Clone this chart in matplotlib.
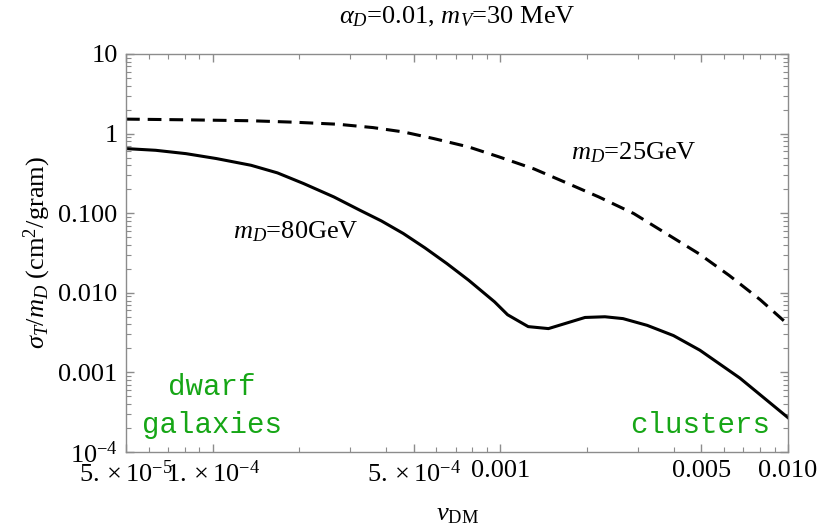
import matplotlib
matplotlib.use("Agg")
import matplotlib.pyplot as plt
from matplotlib.ticker import FixedLocator, NullFormatter, LogLocator

plt.rcParams['font.family'] = ['Liberation Serif', 'DejaVu Serif']
plt.rcParams['mathtext.fontset'] = 'custom'
plt.rcParams['mathtext.rm'] = 'Liberation Serif'
plt.rcParams['mathtext.it'] = 'Liberation Serif:italic'
plt.rcParams['mathtext.bf'] = 'Liberation Serif:bold'

# m_D = 25 GeV (dashed)
v_25 = [5e-5, 8.08e-5, 1.36e-4, 1.93e-4, 2.73e-4, 3.61e-4, 4.6e-4, 5.87e-4,
        7.76e-4, 9.9e-4, 1.31e-3, 1.67e-3, 2.2e-3, 2.91e-3, 3.7e-3, 4.9e-3,
        6.25e-3, 8e-3, 1e-2]
s_25 = [1.52, 1.49, 1.45, 1.39, 1.31, 1.19, 1.05, 0.866,
        0.68, 0.51, 0.36, 0.247, 0.16, 0.099, 0.058, 0.031,
        0.0165, 0.0082, 0.0040]

# m_D = 80 GeV (solid)
v_80 = [5e-5, 6.34e-5, 8.08e-5, 1.03e-4, 1.36e-4, 1.68e-4, 2.07e-4, 2.64e-4,
        3.25e-4, 3.86e-4, 4.6e-4, 5.47e-4, 6.52e-4, 7.76e-4, 9.55e-4,
        1.06e-3, 1.25e-3, 1.47e-3, 1.97e-3, 2.31e-3, 2.67e-3, 3.24e-3,
        4.0e-3, 4.94e-3, 6.8e-3, 1e-2]
s_80 = [0.648, 0.617, 0.56, 0.486, 0.40, 0.321, 0.236, 0.160,
        0.109, 0.080, 0.0556, 0.0367, 0.0233, 0.0144, 0.0077,
        0.0053, 0.00376, 0.00355, 0.0049, 0.0050, 0.00474, 0.0039,
        0.0029, 0.0019, 0.00085, 0.00027]

x_ticks = [5e-5, 1e-4, 5e-4, 1e-3, 5e-3, 1e-2]
x_labels = [r"$5.\times10^{-5}$", r"$1.\times10^{-4}$", r"$5.\times10^{-4}$",
            "0.001", "0.005", "0.010"]
y_ticks = [1e-4, 1e-3, 1e-2, 1e-1, 1, 10]
y_labels = [r"$10^{-4}$", "0.001", "0.010", "0.100", "1", "10"]

W, H = 823, 531
fig = plt.figure(figsize=(W / 100, H / 100), dpi=100)
ax = fig.add_axes([126 / W, 1 - 452 / H, (788 - 126) / W, (452 - 54) / H])

ax.plot(v_25, s_25, color='black', lw=2.2, ls=(0, (4.5, 2.6)))
ax.plot(v_80, s_80, color='black', lw=2.2)

ax.set_xscale('log')
ax.set_yscale('log')
ax.set_xlim(5e-5, 1e-2)
ax.set_ylim(1e-4, 10)

ax.xaxis.set_major_locator(FixedLocator(x_ticks))
ax.set_xticklabels(x_labels)
ax.xaxis.set_minor_locator(LogLocator(base=10, subs=[1, 2, 3, 4, 5, 6, 7, 8, 9], numticks=50))
ax.xaxis.set_minor_formatter(NullFormatter())
ax.yaxis.set_major_locator(FixedLocator(y_ticks))
ax.set_yticklabels(y_labels)
ax.yaxis.set_minor_locator(LogLocator(base=10, subs=[2, 3, 4, 5, 6, 7, 8, 9], numticks=50))
ax.yaxis.set_minor_formatter(NullFormatter())

frame_col = '#8c8c8c'
for s in ax.spines.values():
    s.set_color(frame_col)
    s.set_linewidth(1.0)
ax.tick_params(which='both', direction='in', top=True, right=True, color=frame_col,
               labelsize=19, labelcolor='black')
ax.tick_params(which='major', length=6, width=1.0, pad=6)
ax.tick_params(which='minor', length=3.5, width=0.8)

fig.text(457 / W, 1 - 17 / H, r"$\alpha_D$=0.01, $m_V$=30 MeV", ha='center',
         va='center', fontsize=19)
ax.set_xlabel(r"$v_{\rm DM}$", fontsize=19, labelpad=12)
ax.set_ylabel(r"$\sigma_T/m_D$ (cm$^2$/gram)", fontsize=19, labelpad=4)

ax.text(296 / W, 1 - 232 / H, r"$m_D$=80GeV", transform=fig.transFigure,
        ha='center', va='center', fontsize=19)
ax.text(634 / W, 1 - 153 / H, r"$m_D$=25GeV", transform=fig.transFigure,
        ha='center', va='center', fontsize=19)

green = '#16a616'
ax.text(212 / W, 1 - 387 / H, "dwarf", transform=fig.transFigure, ha='center',
        va='center', fontsize=21, family='Liberation Mono', color=green)
ax.text(212 / W, 1 - 425 / H, "galaxies", transform=fig.transFigure, ha='center',
        va='center', fontsize=21, family='Liberation Mono', color=green)
ax.text(700 / W, 1 - 425 / H, "clusters", transform=fig.transFigure, ha='center',
        va='center', fontsize=21, family='Liberation Mono', color=green)

fig.savefig("out.png", dpi=100)
